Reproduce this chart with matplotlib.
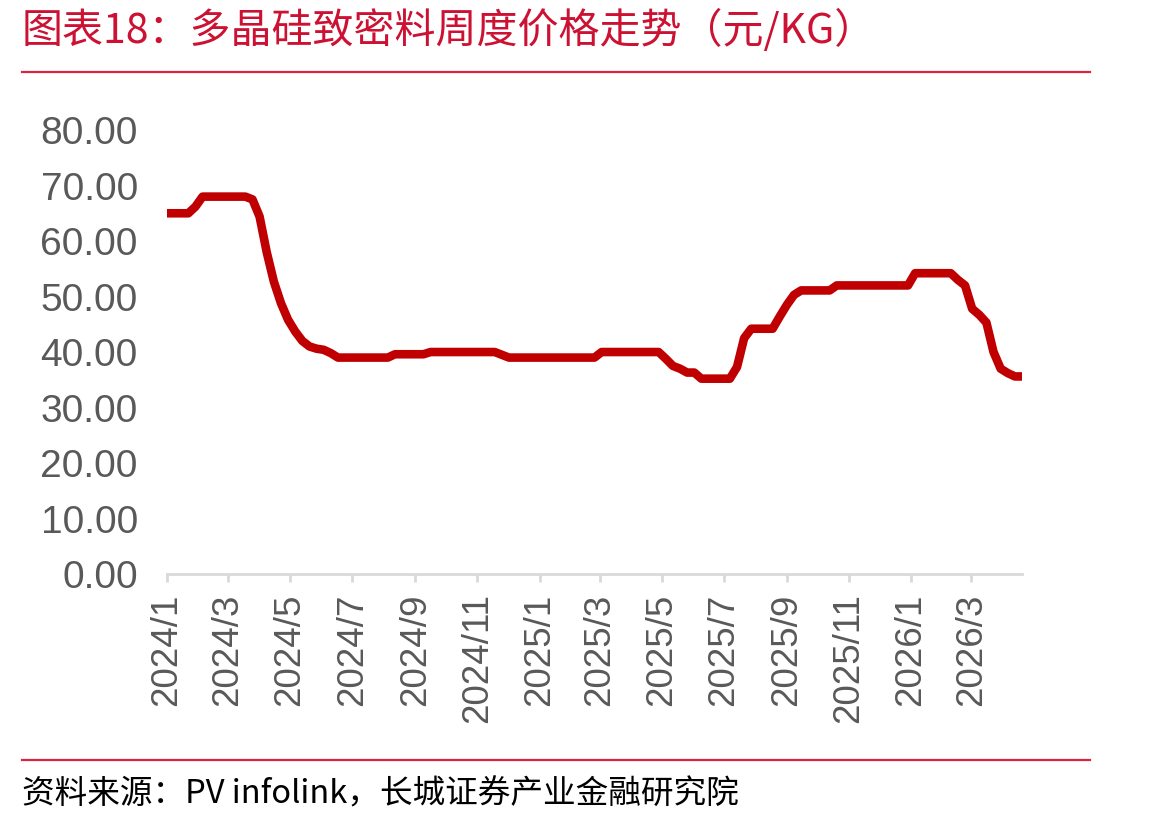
import matplotlib
matplotlib.use('Agg')
import matplotlib.pyplot as plt
import matplotlib.dates as mdates
from matplotlib.lines import Line2D
from matplotlib.ticker import FuncFormatter
import pandas as pd

# weekly price of dense polysilicon (yuan/kg)
start_date = '2024-01-01'
prices = [
    65, 65, 65, 65, 66.2, 68, 68, 68, 68, 68, 68, 68,
    67.5, 64.4, 58, 52.7, 48.8, 45.8, 43.7, 42, 41, 40.6, 40.4, 39.8,
    39, 39, 39, 39, 39, 39, 39, 39,
    39.6, 39.6, 39.6, 39.6, 39.6,
    40, 40, 40, 40, 40, 40, 40, 40, 40, 40,
    39.5,
    39, 39, 39, 39, 39, 39, 39, 39, 39, 39, 39, 39, 39,
    40, 40, 40, 40, 40, 40, 40, 40, 40,
    38.8, 37.5, 37, 36.3, 36.3,
    35.2, 35.2, 35.2, 35.2, 35.2,
    37.3, 42.5,
    44.2, 44.2, 44.2, 44.2,
    46.4, 48.5, 50.3,
    51.1, 51.1, 51.1, 51.1, 51.1,
    52, 52, 52, 52, 52, 52, 52, 52, 52, 52, 52,
    54.2, 54.2, 54.2, 54.2, 54.2, 54.2,
    53, 52, 47.8, 46.7, 45.3, 40, 37, 36.2, 35.6, 35.6,
]
dates = pd.date_range(start_date, periods=len(prices), freq='7D')

title = '图表18：多晶硅致密料周度价格走势（元/KG）'
source = '资料来源：PV infolink，长城证券产业金融研究院'

RED = '#c00000'
TITLE_RED = '#cc1133'
RULE_RED = '#dc2341'
GREY = '#595959'
cjk = ['Noto Sans CJK SC', 'DejaVu Sans']

fig = plt.figure(figsize=(11.49, 8.25), dpi=100)
ax = fig.add_axes([0.1453, 0.3042, 0.7442, 0.5382])

ax.plot(dates, prices, color=RED, linewidth=6.2, solid_capstyle='butt',
        solid_joinstyle='round')

ax.set_ylim(0, 80)
ax.set_yticks(range(0, 81, 10))
ax.yaxis.set_major_formatter(FuncFormatter(lambda v, p: f'{v:.2f}'))
ax.set_xlim(dates[0], dates[-1])
ax.xaxis.set_major_locator(mdates.MonthLocator(bymonth=[1, 3, 5, 7, 9, 11]))
ax.xaxis.set_major_formatter(
    FuncFormatter(lambda v, p: f'{mdates.num2date(v).year}/{mdates.num2date(v).month}'))

for side in ('top', 'right', 'left'):
    ax.spines[side].set_visible(False)
ax.spines['bottom'].set_color('#d9d9d9')
ax.spines['bottom'].set_linewidth(2)

ax.tick_params(axis='y', length=0, pad=21, labelsize=28, labelcolor=GREY)
ax.tick_params(axis='x', length=6, width=2, color='#d9d9d9', pad=8,
               labelsize=26.5, labelcolor=GREY, labelrotation=90)
for lab in ax.get_xticklabels() + ax.get_yticklabels():
    lab.set_fontfamily('Liberation Sans')

# header and footer
fig.text(0.019, 0.9636, title, color=TITLE_RED, fontsize=29.5, family=cjk,
         va='center', ha='left')
fig.add_artist(Line2D([0.0191, 0.9487], [0.9127, 0.9127],
                      transform=fig.transFigure, color=RULE_RED, linewidth=1.6))
fig.add_artist(Line2D([0.0191, 0.9487], [0.0788, 0.0788],
                      transform=fig.transFigure, color=RULE_RED, linewidth=1.6))
fig.text(0.019, 0.0364, source, color='black', fontsize=23.5, family=cjk,
         va='center', ha='left')

fig.savefig('out.png', dpi=100, facecolor='white')
